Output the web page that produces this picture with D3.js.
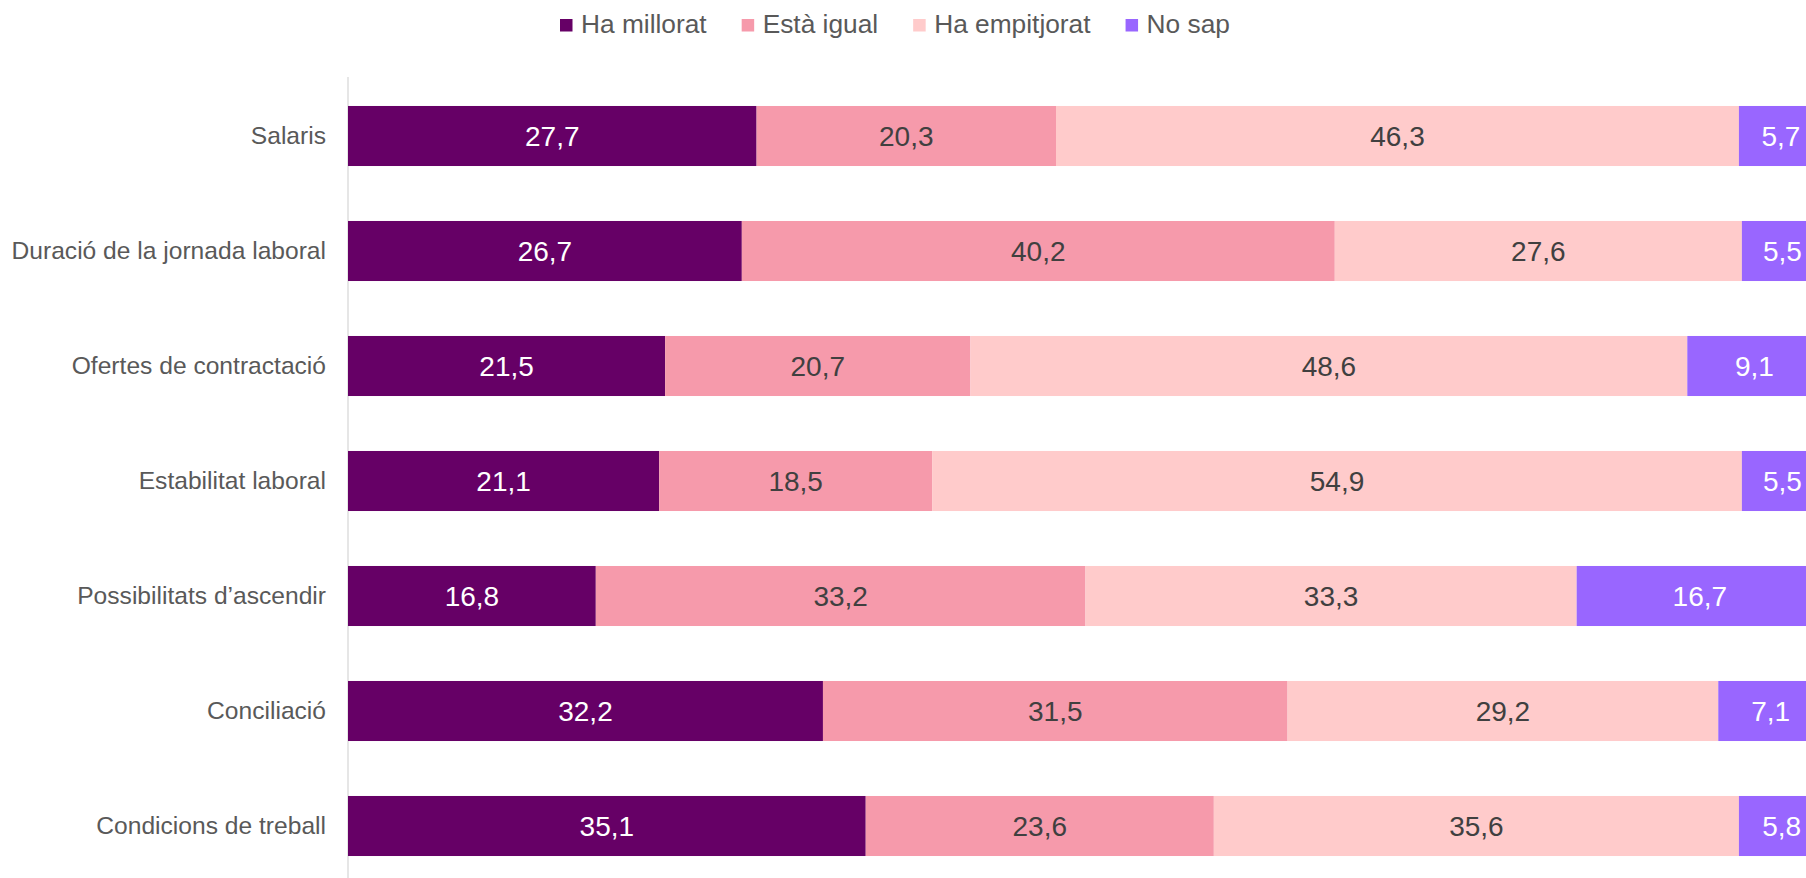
<!DOCTYPE html>
<html>
<head>
<meta charset="utf-8">
<script src="https://cdn.jsdelivr.net/npm/d3@7"></script>
<style>
  html, body { margin: 0; padding: 0; background: #ffffff; overflow: hidden; }
  svg { display: block; font-family: "Liberation Sans", Arial, sans-serif; }
</style>
</head>
<body>
<svg id="chart" width="1806" height="878"></svg>
<script>
const categories = [
  "Salaris",
  "Duració de la jornada laboral",
  "Ofertes de contractació",
  "Estabilitat laboral",
  "Possibilitats d’ascendir",
  "Conciliació",
  "Condicions de treball"
];
const seriesNames = ["Ha millorat", "Està igual", "Ha empitjorat", "No sap"];
const haMillorat   = [27.7, 26.7, 21.5, 21.1, 16.8, 32.2, 35.1];
const estaIgual    = [20.3, 40.2, 20.7, 18.5, 33.2, 31.5, 23.6];
const haEmpitjorat = [46.3, 27.6, 48.6, 54.9, 33.3, 29.2, 35.6];
const noSap        = [5.7, 5.5, 9.1, 5.5, 16.7, 7.1, 5.8];
const seriesColors = ["#660066", "#f69aab", "#ffcbcb", "#9966ff"];
const labelColors  = ["#ffffff", "#404040", "#404040", "#ffffff"];

const table = categories.map((c, i) => ({
  cat: c,
  "Ha millorat": haMillorat[i],
  "Està igual": estaIgual[i],
  "Ha empitjorat": haEmpitjorat[i],
  "No sap": noSap[i]
}));

const svg = d3.select("#chart");
const x = d3.scaleLinear().domain([0, 100]).range([348, 1823]);
const y = d3.scaleBand().domain(categories).range([78.5, 883.5])
  .paddingInner(0.478).paddingOuter(0.239);

const stack = d3.stack().keys(seriesNames);
const stacked = stack(table);

// axis line
svg.append("line")
  .attr("x1", x(0)).attr("x2", x(0))
  .attr("y1", 77).attr("y2", 878)
  .attr("stroke", "#d9d9d9").attr("stroke-width", 1.3);

const groups = svg.selectAll("g.series").data(stacked).join("g")
  .attr("class", "series")
  .attr("fill", (d, i) => seriesColors[i]);

groups.selectAll("rect").data(d => d).join("rect")
  .attr("x", d => x(d[0]))
  .attr("y", d => y(d.data.cat))
  .attr("width", d => x(d[1]) - x(d[0]))
  .attr("height", y.bandwidth());

const fmt = v => d3.format(".1f")(v).replace(".", ",");

svg.selectAll("g.labels").data(stacked).join("g")
  .attr("class", "labels")
  .attr("fill", (d, i) => labelColors[i])
  .selectAll("text").data(d => d.map(p => ({p, key: d.key}))).join("text")
  .attr("x", d => (x(d.p[0]) + x(d.p[1])) / 2)
  .attr("y", d => y(d.p.data.cat) + y.bandwidth() / 2 + 10)
  .attr("text-anchor", "middle")
  .attr("font-size", 28)
  .text(d => fmt(d.p.data[d.key]));

// category axis labels
const yAxis = d3.axisLeft(y).tickSize(0).tickPadding(22);
const ga = svg.append("g").attr("transform", `translate(${x(0)},0)`).call(yAxis);
ga.select(".domain").remove();
ga.selectAll("text")
  .attr("font-size", 24.6)
  .attr("fill", "#595959")
  .attr("font-family", "Liberation Sans, Arial, sans-serif");

// legend
const legend = svg.append("g");
let lx = 560;
seriesNames.forEach((name, i) => {
  legend.append("rect")
    .attr("x", lx).attr("y", 19).attr("width", 12.5).attr("height", 12.5)
    .attr("fill", seriesColors[i]);
  const t = legend.append("text")
    .attr("x", lx + 21).attr("y", 33)
    .attr("font-size", 26.3).attr("fill", "#595959")
    .text(name);
  const w = t.node().getComputedTextLength();
  lx = lx + 21 + w + 35;
});
</script>
</body>
</html>
